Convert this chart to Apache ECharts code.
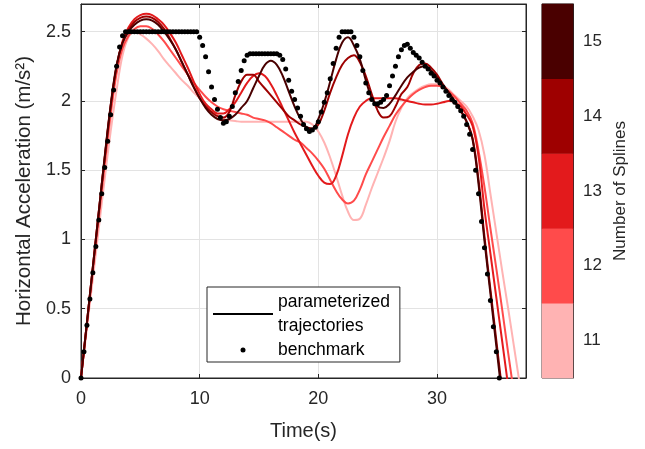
<!DOCTYPE html>
<html>
<head>
<meta charset="utf-8">
<script src="https://cdn.jsdelivr.net/npm/echarts@6/dist/echarts.min.js"></script>
<style>
html, body { margin: 0; padding: 0; background: #fff; }
#main { width: 645px; height: 449px; }
</style>
</head>
<body>
<div id="main"></div>
<script>
var splineCounts = [11, 12, 13, 14, 15];
var splineColors = ['#ffb3b3', '#ff4b4b', '#e31a1c', '#9e0000', '#4a0000'];

var splineTime = [0,0.5,1,1.5,2,2.5,3,3.5,4,4.5,5,5.5,6,6.5,7,7.5,8,8.5,9,9.5,
    10,10.5,11,11.5,12,12.5,13,13.5,14,14.5,15,15.5,16,16.5,17,17.5,18,18.5,19,19.5,
    20,20.5,21,21.5,22,22.5,23,23.5,24,24.5,25,25.5,26,26.5,27,27.5,28,28.5,29,29.5,
    30,30.5,31,31.5,32,32.5,33,33.5,34,34.5,35,35.5,36,36.5,37];

var accel11 = [0,0.36,0.72,1.08,1.44,1.78,2.08,2.33,2.46,2.50,
    2.48,2.45,2.41,2.36,2.30,2.25,2.20,2.15,2.11,2.06,
    2.02,1.97,1.93,1.90,1.87,1.86,1.855,1.85,1.85,1.85,
    1.85,1.85,1.85,1.85,1.85,1.85,1.85,1.85,1.85,1.83,
    1.78,1.70,1.59,1.46,1.32,1.20,1.14,1.15,1.25,1.37,
    1.48,1.59,1.71,1.85,1.95,2.02,2.06,2.09,2.11,2.12,
    2.12,2.11,2.08,2.04,2.00,1.96,1.89,1.79,1.61,1.33,
    1.05,0.77,0.50,0.22,-0.06];
var accel12 = [0,0.39,0.78,1.16,1.54,1.90,2.20,2.38,2.47,2.52,
    2.54,2.54,2.52,2.48,2.43,2.37,2.31,2.25,2.19,2.13,
    2.08,2.03,1.99,1.96,1.94,1.93,1.92,1.91,1.90,1.88,
    1.87,1.86,1.84,1.81,1.78,1.75,1.72,1.70,1.66,1.62,
    1.57,1.51,1.43,1.35,1.29,1.26,1.28,1.36,1.47,1.56,
    1.65,1.74,1.82,1.90,1.96,2.01,2.05,2.08,2.10,2.11,
    2.11,2.10,2.07,2.03,1.98,1.93,1.84,1.64,1.38,1.08,
    0.79,0.49,0.18,-0.12];
var accel13 = [0,0.40,0.80,1.20,1.59,1.96,2.25,2.43,2.53,2.59,
    2.62,2.63,2.62,2.59,2.55,2.49,2.42,2.33,2.24,2.14,
    2.05,1.98,1.94,1.91,1.91,1.94,1.99,2.06,2.13,2.18,
    2.20,2.18,2.12,2.04,1.95,1.86,1.77,1.69,1.61,1.53,
    1.46,1.41,1.40,1.46,1.60,1.76,1.88,1.96,2.00,2.02,
    2.02,2.02,2.02,2.02,2.01,2.00,1.99,1.98,1.975,1.975,
    1.98,1.99,2.00,1.99,1.96,1.90,1.82,1.60,1.22,0.90,
    0.58,0.26,-0.06];
var accel14 = [0,0.40,0.80,1.20,1.59,1.96,2.25,2.42,2.51,2.57,
    2.60,2.61,2.60,2.57,2.52,2.45,2.37,2.28,2.19,2.10,
    2.02,1.96,1.92,1.89,1.88,1.92,2.04,2.14,2.19,2.19,
    2.14,2.09,2.04,1.99,1.94,1.89,1.86,1.83,1.81,1.80,
    1.83,1.93,2.06,2.17,2.26,2.31,2.33,2.28,2.18,2.05,
    1.93,1.88,1.89,1.96,2.05,2.10,2.20,2.26,2.27,2.24,
    2.19,2.12,2.06,2.00,1.93,1.85,1.73,1.43,1.02,0.64,
    0.27,-0.10];
var accel15 = [0,0.40,0.80,1.20,1.60,1.97,2.26,2.42,2.50,2.55,
    2.58,2.59,2.58,2.55,2.50,2.44,2.37,2.28,2.19,2.10,
    2.02,1.95,1.90,1.87,1.86,1.87,1.90,1.95,2.00,2.09,
    2.18,2.26,2.29,2.26,2.18,2.07,1.96,1.87,1.81,1.80,
    1.87,1.99,2.14,2.30,2.42,2.46,2.40,2.30,2.15,2.02,
    1.96,1.95,1.98,2.04,2.11,2.17,2.21,2.24,2.25,2.22,
    2.17,2.11,2.06,1.99,1.93,1.85,1.72,1.40,0.99,0.61,
    0.23,-0.15];

var benchTime = [0,0.25,0.5,0.75,1,1.25,1.5,1.75,2,2.25,2.5,2.75,3,3.25,3.5,3.75,
    4,4.25,4.5,4.75,5,5.25,5.5,5.75,6,6.25,6.5,6.75,7,7.25,7.5,7.75,
    8,8.25,8.5,8.75,9,9.25,9.5,9.75,10,10.25,10.5,10.75,11,11.25,11.5,11.75,
    12,12.25,12.5,12.75,13,13.25,13.5,13.75,14,14.25,14.5,14.75,15,15.25,15.5,15.75,
    16,16.25,16.5,16.75,17,17.25,17.5,17.75,18,18.25,18.5,18.75,19,19.25,19.5,19.75,
    20,20.25,20.5,20.75,21,21.25,21.5,21.75,22,22.25,22.5,22.75,23,23.25,23.5,23.75,
    24,24.25,24.5,24.75,25,25.25,25.5,25.75,26,26.25,26.5,26.75,27,27.25,27.5,27.75,
    28,28.25,28.5,28.75,29,29.25,29.5,29.75,30,30.25,30.5,30.75,31,31.25,31.5,31.75,
    32,32.25,32.5,32.75,33,33.25,33.5,33.75,34,34.25,34.5,34.75,35,35.25];
var benchAcc = [0,0.19,0.38,0.57, 0.76,0.95,1.14,1.33, 1.52,1.71,1.90,2.08, 2.25,2.39,2.47,2.50,
    2.50,2.50,2.50,2.50, 2.50,2.50,2.50,2.50, 2.50,2.50,2.50,2.50, 2.50,2.50,2.50,2.50,
    2.50,2.50,2.50,2.50, 2.50,2.50,2.50,2.50, 2.46,2.40,2.32,2.21, 2.10,2.01,1.94,1.88,
    1.84,1.85,1.89,1.96, 2.06,2.14,2.22,2.29, 2.33,2.34,2.34,2.34, 2.34,2.34,2.34,2.34,
    2.34,2.34,2.34,2.33, 2.30,2.23,2.15,2.07, 2.01,1.95,1.89,1.83, 1.80,1.78,1.79,1.81,
    1.85,1.92,1.99,2.06, 2.16,2.27,2.38,2.46, 2.50,2.50,2.50,2.50, 2.46,2.40,2.32,2.22,
    2.13,2.06,2.01,1.98, 1.98,1.99,2.01,2.04, 2.11,2.18,2.25,2.32, 2.37,2.40,2.41,2.38,
    2.35,2.33,2.31,2.28, 2.25,2.23,2.20,2.18, 2.15,2.13,2.10,2.07, 2.04,2.01,1.99,1.96,
    1.93,1.89,1.83,1.76, 1.65,1.50,1.33,1.13, 0.94,0.75,0.56,0.37, 0.19,0];

var F = 'Liberation Sans, Arial, Helvetica, sans-serif';
var ink = '#262626';
var splineAcc = [accel11, accel12, accel13, accel14, accel15];

function pairs(t, v) {
    var out = [];
    for (var i = 0; i < v.length; i++) out.push([t[i], v[i]]);
    return out;
}

var myChart = echarts.init(document.getElementById('main'), null, {renderer: 'canvas'});

var series = splineAcc.map(function (v, i) {
    return {
        name: 'N' + splineCounts[i],
        type: 'line',
        xAxisIndex: 0, yAxisIndex: 0,
        data: pairs(splineTime, v),
        showSymbol: false, symbol: 'none',
        smooth: 0.4,
        silent: true,
        lineStyle: {width: 2, color: splineColors[i]},
        itemStyle: {color: splineColors[i]},
        z: 2
    };
});
// legend-only entry for the trajectories
series.push({
    name: 'parameterized\ntrajectories', type: 'line', xAxisIndex: 0, yAxisIndex: 0,
    data: [], symbol: 'none', lineStyle: {color: '#000', width: 2}, itemStyle: {color: '#000'}
});
series.push({
    name: 'benchmark', type: 'scatter', xAxisIndex: 0, yAxisIndex: 0,
    data: pairs(benchTime, benchAcc), symbolSize: 5, silent: true,
    itemStyle: {color: '#000', opacity: 1}, z: 3
});
// colorbar
series.push({
    name: 'colorbar', type: 'heatmap', xAxisIndex: 2, yAxisIndex: 2, silent: true,
    data: splineCounts.map(function (n, i) { return [0, i, n]; })
});

var option = {
    animation: false,
    backgroundColor: '#fff',
    textStyle: {fontFamily: F},
    grid: [
        {left: 81, right: 119, top: 4, bottom: 71, show: true, borderColor: ink, borderWidth: 1},
        {left: 542, right: 72, top: 4, bottom: 71, show: true, borderColor: ink, borderWidth: 1}
    ],
    visualMap: {
        type: 'piecewise', show: false, seriesIndex: 7, dimension: 2,
        pieces: splineCounts.map(function (n, i) { return {value: n, color: splineColors[i]}; })
    },
    legend: {
        left: 207, top: 287, orient: 'vertical',
        padding: [3, 10, 0, 6], itemGap: 0, itemWidth: 60, itemHeight: 5,
        borderColor: ink, borderWidth: 1, backgroundColor: '#fff',
        selectedMode: false,
        textStyle: {fontFamily: F, fontSize: 17.5, color: '#000', lineHeight: 24},
        data: [
            {name: 'parameterized\ntrajectories', icon: 'path://M0,0H60V2H0Z', itemStyle: {color: '#000'}},
            {name: 'benchmark', icon: 'circle', itemStyle: {color: '#000'}}
        ]
    },
    xAxis: [
        {
            gridIndex: 0, type: 'value', min: 0, max: 37.5, interval: 10, position: 'bottom',
            axisLine: {show: true, onZero: false, lineStyle: {color: ink}},
            axisTick: {inside: true, length: 4, lineStyle: {color: ink}},
            axisLabel: {color: ink, fontSize: 18, margin: 12, fontFamily: F, showMaxLabel: false},
            splitLine: {show: true, lineStyle: {color: '#e3e3e3'}},
            name: 'Time(s)', nameLocation: 'middle', nameGap: 43,
            nameTextStyle: {color: ink, fontSize: 20, fontFamily: F}
        },
        {
            gridIndex: 0, type: 'value', min: 0, max: 37.5, interval: 10, position: 'top',
            axisLine: {show: true, onZero: false, lineStyle: {color: ink}},
            axisTick: {inside: true, length: 4, lineStyle: {color: ink}},
            axisLabel: {show: false}, splitLine: {show: false}
        },
        {gridIndex: 1, type: 'category', data: [''], show: false}
    ],
    yAxis: [
        {
            gridIndex: 0, type: 'value', min: 0, max: 2.7, interval: 0.5,
            axisLine: {show: true, onZero: false, lineStyle: {color: ink}},
            axisTick: {inside: true, length: 4, lineStyle: {color: ink}},
            axisLabel: {color: ink, fontSize: 18, margin: 10, fontFamily: F, showMaxLabel: false},
            splitLine: {show: true, lineStyle: {color: '#e3e3e3'}},
            name: 'Horizontal Acceleration (m/s²)', nameLocation: 'middle', nameGap: 45, nameRotate: 90,
            nameTextStyle: {color: ink, fontSize: 20.5, fontFamily: F}
        },
        {
            gridIndex: 0, type: 'value', min: 0, max: 2.7, interval: 0.5, position: 'right',
            axisLine: {show: true, onZero: false, lineStyle: {color: ink}},
            axisTick: {inside: true, length: 4, lineStyle: {color: ink}},
            axisLabel: {show: false}, splitLine: {show: false}
        },
        {
            gridIndex: 1, type: 'category', position: 'right',
            data: splineCounts.map(String),
            axisLine: {show: true, lineStyle: {color: ink}},
            axisTick: {inside: true, length: 4, alignWithLabel: true, lineStyle: {color: ink}},
            axisLabel: {color: ink, fontSize: 17, margin: 10, fontFamily: F},
            splitLine: {show: false},
            name: 'Number of Splines', nameLocation: 'middle', nameGap: 39, nameRotate: 90,
            nameTextStyle: {color: ink, fontSize: 17, fontFamily: F}
        }
    ],
    series: series
};

myChart.setOption(option);
</script>
</body>
</html>
